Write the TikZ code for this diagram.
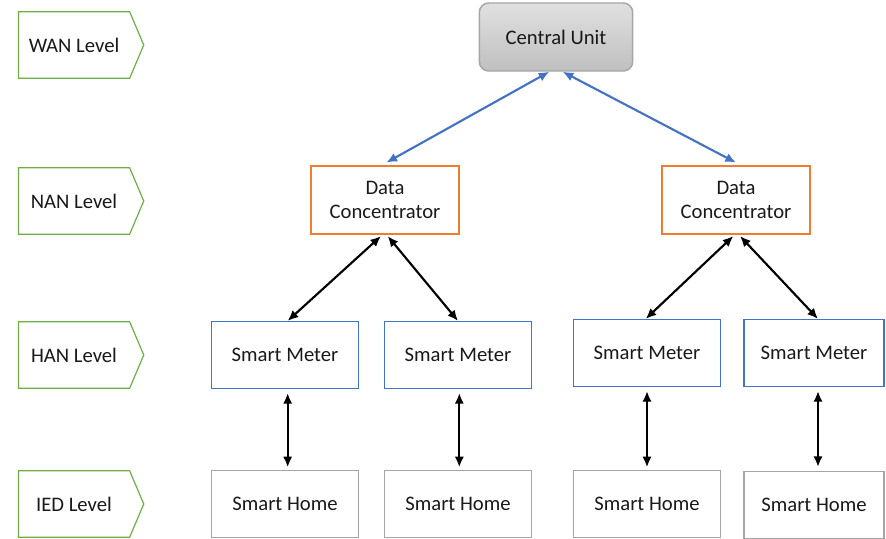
\documentclass[tikz,border=0pt]{standalone}
\usepackage{fontspec}
\setmainfont{Carlito}
\usetikzlibrary{positioning,arrows.meta,shapes.symbols}
\definecolor{lvlgreen}{HTML}{70AD47}
\definecolor{dcorange}{HTML}{ED7D31}
\definecolor{smblue}{HTML}{4472C4}
\definecolor{shgray}{HTML}{A5A5A5}
\tikzset{
  >={Latex[length=8pt,width=7pt]},
  level/.style={
    signal,
    signal to=east,
    signal pointer angle=134,
    draw=lvlgreen,
    line width=0.9pt,
    minimum width=94pt,
    minimum height=50pt,
    inner sep=2pt
  },
  unit/.style={
    draw,
    align=center,
    line width=1.1pt,
    minimum width=110pt,
    minimum height=50pt,
    inner sep=2pt
  },
  conc/.style={unit, draw=dcorange, minimum width=111pt, minimum height=51pt},
  meter/.style={unit, draw=smblue},
  home/.style={unit, draw=shgray},
  link/.style={<->, line width=1.6pt, black},
  uplink/.style={link, smblue}
}

\begin{document}
\begin{tikzpicture}[
    x=0.75pt, y=-0.75pt,
    every node/.style={font=\fontsize{15.5}{18.5}\selectfont, text=black!90}
  ]
  \useasboundingbox (0,0) rectangle (886,539);

  % levels
  \node[level] (wan) at (74,45)  {WAN Level};
  \node[level] (nan) at (74,201) {NAN Level};
  \node[level] (han) at (74,355) {HAN Level};
  \node[level] (ied) at (74,504) {IED Level};

  % central unit
  \node[unit, draw=black!35, rounded corners=7pt, top color=black!12,
        bottom color=black!25, minimum width=115pt, minimum height=51pt]
        (cu) at (556,37) {Central Unit};

  % data concentrators
  \node[conc] (dcl) at (385,200) {Data\\Concentrator};
  \node[conc] (dcr) at (736,200) {Data\\Concentrator};

  % smart meters
  \node[meter] (sma) at (285,355) {Smart Meter};
  \node[meter] (smb) at (458,355) {Smart Meter};
  \node[meter] (smc) at (647,353) {Smart Meter};
  \node[meter, minimum width=105pt] (smd) at (814,353) {Smart Meter};

  % smart homes
  \node[home] (sha) at (285,504) {Smart Home};
  \node[home] (shb) at (458,504) {Smart Home};
  \node[home] (shc) at (647,504) {Smart Home};
  \node[home, minimum width=105pt] (shd) at (814,505) {Smart Home};

  % links
  \draw[uplink] ([xshift=-5pt]cu.south) -- ([xshift=1pt,yshift=2pt]dcl.north);
  \draw[uplink] ([xshift=5pt]cu.south) -- ([yshift=2pt]dcr.north);

  \draw[link] ([xshift=-3pt,yshift=-1pt]dcl.south) -- ([xshift=2pt]sma.north);
  \draw[link] ([xshift=2pt,yshift=-1pt]dcl.south) -- (smb.north);
  \draw[link] ([xshift=-2pt,yshift=-1pt]dcr.south) -- ([xshift=-1pt]smc.north);
  \draw[link] ([xshift=3pt,yshift=-1pt]dcr.south) -- ([xshift=3pt]smd.north);

  \draw[link] ([xshift=2pt,yshift=-3pt]sma.south) -- ([xshift=2pt,yshift=2pt]sha.north);
  \draw[link] ([xshift=1pt,yshift=-3pt]smb.south) -- ([xshift=1pt,yshift=2pt]shb.north);
  \draw[link] ([yshift=-3pt]smc.south) -- ([yshift=2pt]shc.north);
  \draw[link] ([xshift=3pt,yshift=-3pt]smd.south) -- ([xshift=3pt,yshift=3pt]shd.north);
\end{tikzpicture}
\end{document}
